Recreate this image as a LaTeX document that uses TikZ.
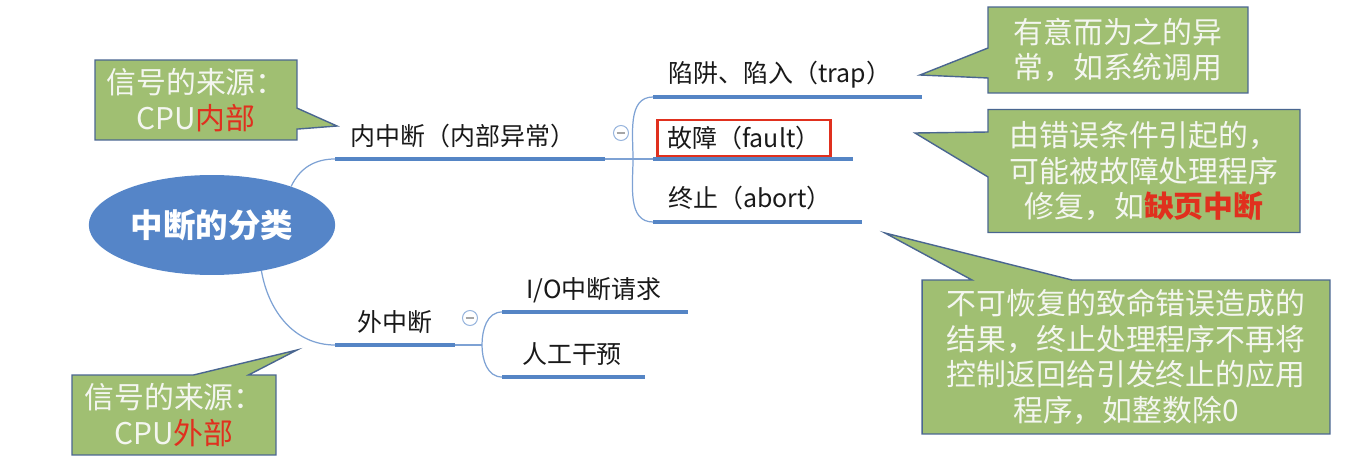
\documentclass[tikz,border=0pt]{standalone}
\usepackage{fontspec}
\setmainfont{Noto Sans CJK SC}
\usepackage{xcolor}
\usetikzlibrary{shapes.geometric, shapes.callouts, positioning}
\definecolor{rootblue}{HTML}{5585C8}
\definecolor{barblue}{HTML}{5585C5}
\definecolor{thinblue}{HTML}{7EA2D4}
\definecolor{notegreen}{HTML}{A0BF72}
\definecolor{noteedge}{HTML}{4A6690}
\definecolor{notetext}{HTML}{F4F6F0}
\definecolor{hotred}{HTML}{E0301E}
\tikzstyle{bar} = [line width=2.8pt, barblue]
\tikzstyle{twig} = [line width=0.7pt, thinblue]
\tikzstyle{lbl} = [inner sep=0pt, font=\fontsize{14.2}{16}\selectfont, text=black!90]
\tikzstyle{note} = [rectangle callout, draw=noteedge, line width=0.8pt, fill=notegreen, text=notetext, inner sep=0pt, align=center, font=\fontsize{17}{20.3}\selectfont]
\tikzstyle{fold} = [circle, draw=thinblue!80, line width=0.6pt, minimum size=0.3cm, inner sep=0pt]

\begin{document}
\begin{tikzpicture}[x=0.02cm, y=-0.02cm]
    \useasboundingbox (0,0) rectangle (1349,476);

    % Root
    \node[ellipse, fill=rootblue, minimum width=4.42cm, minimum height=2cm, text=white,
          font=\fontsize{18.5}{20}\selectfont\bfseries] (root) at (212,225) {中断的分类};

    % First level
    \node[lbl] (inner) at (463,136) {内中断（内部异常）};
    \node[lbl] (outer) at (395,322) {外中断};
    \coordinate (innerL) at (335,159);
    \coordinate (innerR) at (605,159);
    \coordinate (outerL) at (335,345);
    \coordinate (outerR) at (455,345);
    \draw[twig] (root.26) to[out=65, in=180] (innerL);
    \draw[twig] (root.-43) to[out=-80, in=180] (outerL);
    \draw[bar] (innerL) -- (innerR);
    \draw[bar] (outerL) -- (outerR);

    % Fold icons
    \node[fold] (innerFold) at (621,133) {};
    \node[fold] (outerFold) at (470,318) {};
    \draw[gray!70, line width=0.7pt] ([xshift=-2.5pt]innerFold.center) -- ([xshift=2.5pt]innerFold.center);
    \draw[gray!70, line width=0.7pt] ([xshift=-2.5pt]outerFold.center) -- ([xshift=2.5pt]outerFold.center);

    % Inner children
    \node[lbl] (trap) at (780,75) {陷阱、陷入（trap）};
    \node[lbl, draw=hotred, line width=1.2pt, minimum width=3.46cm, minimum height=0.72cm] (fault) at (744,138) {故障（fault）};
    \node[lbl] (abort) at (750,198) {终止（abort）};
    \coordinate (innerFork) at (633,159);
    \coordinate (trapL) at (653,97);
    \coordinate (trapR) at (922,97);
    \coordinate (faultL) at (653,159);
    \coordinate (faultR) at (853,159);
    \coordinate (abortL) at (653,222);
    \coordinate (abortR) at (862,222);
    \draw[twig] (innerR) -- (faultL);
    \draw[twig] (innerFork) to[out=90, in=180] (trapL);
    \draw[twig] (innerFork) to[out=-90, in=180] (abortL);
    \draw[bar] (trapL) -- (trapR);
    \draw[bar] (faultL) -- (faultR);
    \draw[bar] (abortL) -- (abortR);

    % Outer children
    \node[lbl] (io) at (594,290) {I/O中断请求};
    \node[lbl] (manual) at (572,354) {人工干预};
    \coordinate (outerFork) at (482,345);
    \coordinate (ioL) at (502,312);
    \coordinate (ioR) at (688,312);
    \coordinate (manualL) at (502,377);
    \coordinate (manualR) at (645,377);
    \draw[twig] (outerR) -- (outerFork);
    \draw[twig] (outerFork) to[out=90, in=180] (ioL);
    \draw[twig] (outerFork) to[out=-90, in=180] (manualL);
    \draw[bar] (ioL) -- (ioR);
    \draw[bar] (manualL) -- (manualR);

    % Callouts
    \node[note, minimum width=4.04cm, minimum height=1.6cm, callout absolute pointer={(337,126)},
          callout pointer width=0.42cm] (srcIn) at (196,100) {信号的来源：\\CPU\textcolor{hotred}{内部}};
    \node[note, minimum width=4.08cm, minimum height=1.6cm, callout absolute pointer={(297,350)},
          callout pointer width=1.1cm] (srcOut) at (174,415) {信号的来源：\\CPU\textcolor{hotred}{外部}};
    \node[note, minimum width=5.2cm, minimum height=1.72cm, callout absolute pointer={(920,75)},
          callout pointer width=0.6cm] (trapNote) at (1118,50) {有意而为之的异\\常，如系统调用};
    \node[note, minimum width=6.24cm, minimum height=2.46cm, callout absolute pointer={(915,133)},
          callout pointer width=0.9cm] (faultNote) at (1144,171)
          {由错误条件引起的，\\可能被故障处理程序\\修复，如\textcolor{hotred}{\bfseries 缺页中断}};
    \node[note, minimum width=8.16cm, minimum height=3.08cm, callout absolute pointer={(885,233)},
          callout pointer width=2cm] (abortNote) at (1126,357)
          {不可恢复的致命错误造成的\\结果，终止处理程序不再将\\控制返回给引发终止的应用\\程序，如整数除0};
\end{tikzpicture}
\end{document}
